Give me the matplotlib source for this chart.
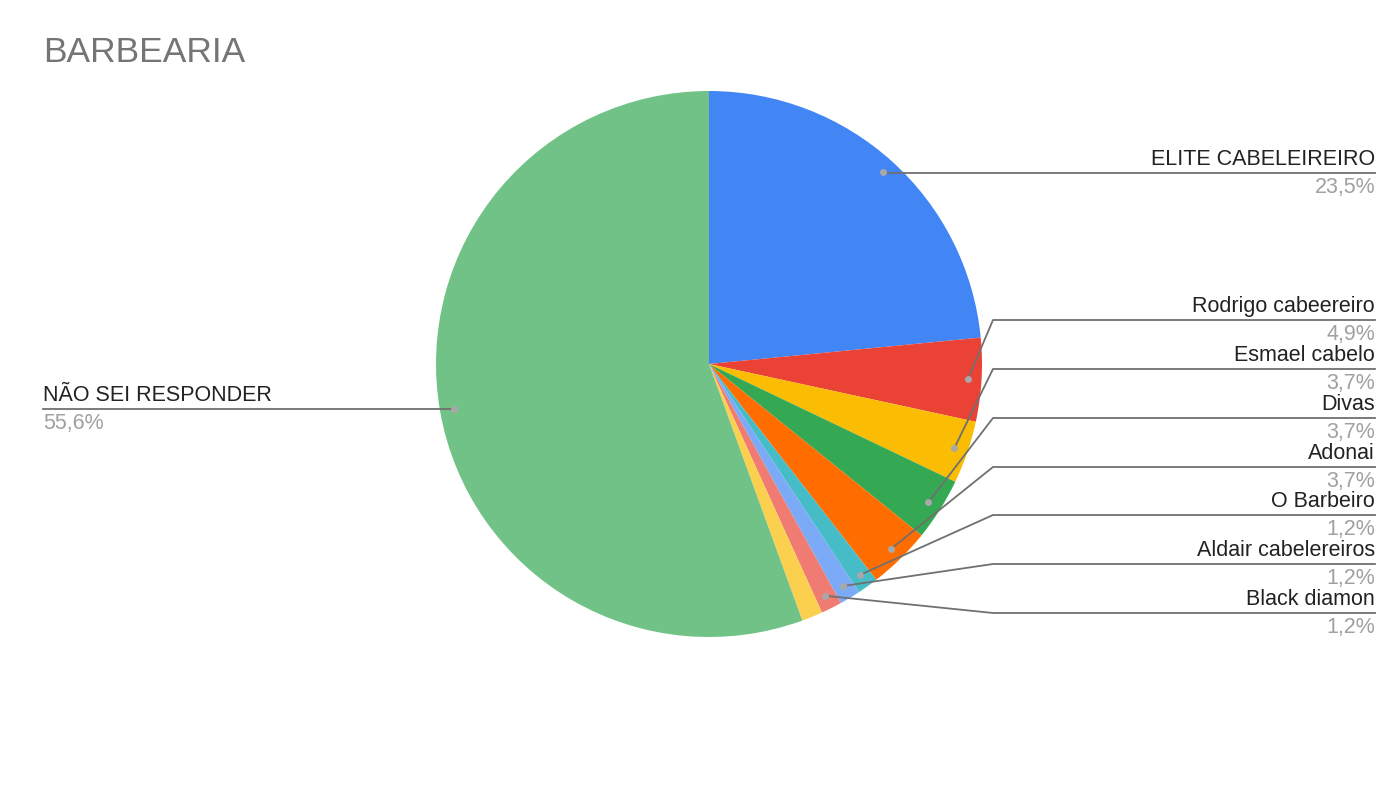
import numpy as np
import matplotlib.pyplot as plt

# respostas (contagens, n=81)
categorias = ["ELITE CABELEIREIRO", "Rodrigo cabeereiro", "Esmael cabelo", "Divas",
              "Adonai", "O Barbeiro", "Aldair cabelereiros", "Black diamon", "",
              "NÃO SEI RESPONDER"]
contagens = [19, 4, 3, 3, 3, 1, 1, 1, 1, 45]
cores = ["#4285F4", "#EA4335", "#FBBC04", "#34A853", "#FF6D01", "#46BDC6",
         "#7BAAF7", "#F07B72", "#FCD04F", "#71C287"]

plt.rcParams['font.family'] = ['Liberation Sans', 'DejaVu Sans']

W, H = 1400, 788
fig = plt.figure(figsize=(14, 7.88), dpi=100)
ax = fig.add_axes([0, 0, 1, 1])

cx, cy, R = 709, H - 364, 273
wedges, _ = ax.pie(contagens, colors=cores, startangle=90, counterclock=False,
                   center=(cx, cy), radius=R, frame=True,
                   wedgeprops=dict(linewidth=0))
ax.set_xlim(0, W)
ax.set_ylim(0, H)
ax.set_aspect('equal')
ax.axis('off')

total = sum(contagens)
# posicao (em pixels, de cima) das linhas dos rotulos a direita
linha_y = [173, 320, 369, 418, 467, 515, 564, 613]
cotovelo_x = 993
fim_x = 1375
fs = 15.5
cor_linha = "#707070"

for i, w in enumerate(wedges):
    if categorias[i] == "":
        continue
    ang = np.deg2rad((w.theta1 + w.theta2) / 2)
    dx = cx + 0.95 * R * np.cos(ang)
    dy = cy + 0.95 * R * np.sin(ang)
    pct = f"{100 * contagens[i] / total:.1f}%".replace(".", ",")
    if i < len(linha_y):
        ly = H - linha_y[i]
        if i == 0:
            xs, ys = [dx, fim_x], [ly, ly]
        else:
            xs, ys = [dx, cotovelo_x, fim_x], [dy, ly, ly]
        ax.plot(xs, ys, color=cor_linha, lw=1.3, zorder=3)
        ax.text(fim_x, ly + 3, categorias[i], ha='right', va='bottom',
                fontsize=fs, color="#222222")
        ax.text(fim_x, ly - 4, pct, ha='right', va='top',
                fontsize=fs, color="#a0a0a0")
    else:
        ly = dy
        ax.plot([43, dx], [ly, ly], color=cor_linha, lw=1.3, zorder=3)
        ax.text(43, ly + 3, categorias[i], ha='left', va='bottom',
                fontsize=fs, color="#222222")
        ax.text(43, ly - 4, pct, ha='left', va='top',
                fontsize=fs, color="#a0a0a0")
    ax.plot(dx, dy, 'o', ms=5, color="#a8a8a8", mec='none', zorder=4)

ax.text(43, H - 62, "BARBEARIA", ha='left', va='baseline',
        fontsize=25.5, color="#757575")

fig.savefig("out.png", dpi=100, facecolor='white')
